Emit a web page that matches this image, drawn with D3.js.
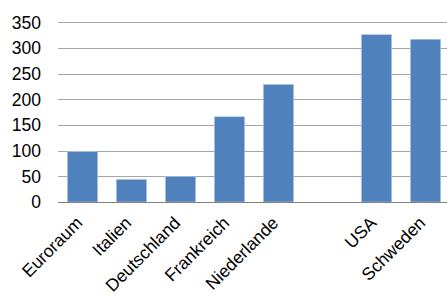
<!DOCTYPE html>
<html><head><meta charset="utf-8">
<script src="https://cdn.jsdelivr.net/npm/d3@7"></script>
<style>body{margin:0;background:#fff;} svg{display:block;}</style>
</head><body>
<script>
const categories = ["Euroraum","Italien","Deutschland","Frankreich","Niederlande","","USA","Schweden"];
const values = [98, 44, 50, 166, 229, null, 326, 317];
const yTicks = [0,50,100,150,200,250,300,350];

const W=447,H=296;
const FONT="Liberation Sans, Arial, sans-serif";
const svg=d3.select("body").append("svg").attr("width",W).attr("height",H);
const x=d3.scaleBand().domain(categories.map((c,i)=>i)).range([58,450]).paddingInner(0.38).paddingOuter(0.19);
const y=d3.scaleLinear().domain([0,350]).range([202,22.3]);

svg.append("g").selectAll("line").data(yTicks.slice(1)).join("line")
  .attr("x1",58).attr("x2",W).attr("y1",d=>Math.round(y(d))+0.5).attr("y2",d=>Math.round(y(d))+0.5)
  .attr("stroke","#a6a6a6").attr("stroke-width",1);

svg.append("g").selectAll("text").data(yTicks).join("text")
  .attr("x",41).attr("y",d=>y(d)+6.3).attr("text-anchor","end")
  .attr("font-family",FONT).attr("font-size",17.5).attr("fill","#000")
  .text(d=>d);

const data=categories.map((c,i)=>({c,i,v:values[i]})).filter(d=>d.v!=null);
svg.append("g").selectAll("rect").data(data).join("rect")
  .attr("x",d=>x(d.i)).attr("width",x.bandwidth())
  .attr("y",d=>y(d.v)).attr("height",d=>y(0)-y(d.v))
  .attr("fill","#4f81bd").attr("stroke","#b9cde5").attr("stroke-width",0.6);

svg.append("line").attr("x1",58).attr("x2",W).attr("y1",202.5).attr("y2",202.5).attr("stroke","#808080").attr("stroke-width",1);

svg.append("g").selectAll("text").data(data).join("text")
  .attr("transform",d=>`translate(${x(d.i)+x.bandwidth()/2+1},${224}) rotate(-45)`)
  .attr("text-anchor","end")
  .attr("font-family",FONT).attr("font-size",17.5).attr("fill","#000")
  .text(d=>d.c);
</script>
</body></html>
